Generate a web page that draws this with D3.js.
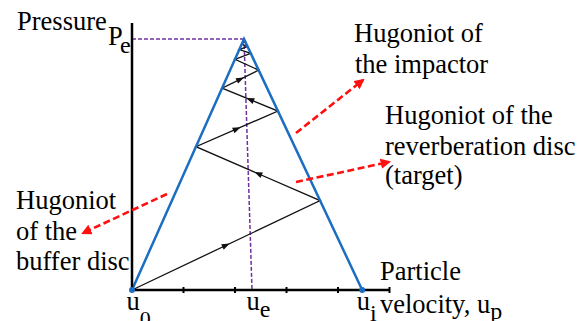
<!DOCTYPE html>
<html><head><meta charset="utf-8">
<script src="https://cdn.jsdelivr.net/npm/d3@7"></script>
<style>
body{margin:0;background:#fff;overflow:hidden}
text{font-family:"Liberation Serif","Times New Roman",serif;fill:#000}
</style>
</head><body><svg id="c" width="586" height="321"></svg>
<script>
// ---- data (velocity in tick units, pressure normalised to Pe = 1) ----
const velocityTicks = [0, 1, 2, 3, 4, 5];
const pressureMax = 1.064;
const peakU = 2.175, peakP = 1.0;          // Pe state
const impactU = 4.47;                      // u_i
const finalU = 2.33;                       // u_e (bottom of dashed line)
const stateU = [0, 3.653, 1.242, 2.834, 1.749, 2.460, 1.999, 2.306, 2.084, 2.244, 2.131, 2.198, 2.160, 2.175];
const stateP = [0, 0.356, 0.571, 0.713, 0.804, 0.876, 0.919, 0.943, 0.958, 0.970, 0.980, 0.990, 0.993, 1.0];
const arrowedSegments = [0, 1, 2, 3, 4];
const velocityLabels = [["u", "0", 0], ["u", "e", 2.33], ["u", "i", 4.47]];

const svg = d3.select("#c");
const x = d3.scaleLinear().domain([0, 5]).range([132, 389.5]);
const y = d3.scaleLinear().domain([0, 1]).range([290, 39]);

const blue = "#1b6ec2", purple = "#7030a0", red = "#ff1010";

// purple dashed guides
svg.append("line").attr("x1", x(0)).attr("y1", y(peakP)).attr("x2", x(peakU)).attr("y2", y(peakP))
  .attr("stroke", purple).attr("stroke-width", 1.5).attr("stroke-dasharray", "4,2");
svg.append("line").attr("x1", x(peakU)).attr("y1", y(peakP)).attr("x2", x(finalU)).attr("y2", y(0))
  .attr("stroke", purple).attr("stroke-width", 1.5).attr("stroke-dasharray", "4,2");

// zigzag
const pts = stateU.map((u, i) => [x(u), y(stateP[i])]);
svg.append("path").attr("d", d3.line()(pts)).attr("fill", "none")
  .attr("stroke", "#111").attr("stroke-width", 1.3);
arrowedSegments.forEach(i => {
  const [x1, y1] = pts[i], [x2, y2] = pts[i + 1];
  const mx = (x1 + x2) / 2, my = (y1 + y2) / 2;
  const ang = Math.atan2(y2 - y1, x2 - x1) * 180 / Math.PI;
  svg.append("path").attr("d", "M4,0 L-4,-3 L-4,3 Z")
    .attr("transform", `translate(${mx},${my}) rotate(${ang})`).attr("fill", "#111");
});

// Hugoniot lines
svg.append("path").attr("d", d3.line()([[x(0), y(0)], [x(peakU), y(peakP)], [x(impactU), y(0)]]))
  .attr("fill", "none").attr("stroke", blue).attr("stroke-width", 2.5).attr("stroke-linejoin", "miter");

// axes
svg.append("line").attr("x1", x(0)).attr("y1", y(0)).attr("x2", x(0)).attr("y2", y(pressureMax))
  .attr("stroke", "#000").attr("stroke-width", 2.5);
svg.append("line").attr("x1", x(0)).attr("y1", y(0)).attr("x2", x(5)).attr("y2", y(0))
  .attr("stroke", "#000").attr("stroke-width", 2.5);
svg.selectAll(".tk").data(velocityTicks.slice(1)).enter().append("line")
  .attr("x1", d => x(d)).attr("x2", d => x(d)).attr("y1", y(0) - 3).attr("y2", y(0) + 3)
  .attr("stroke", "#000").attr("stroke-width", 2);
svg.selectAll(".dot").data([0, impactU]).enter().append("circle")
  .attr("cx", d => x(d)).attr("cy", y(0)).attr("r", 3).attr("fill", blue);

// red annotation arrows
svg.append("defs").append("marker").attr("id", "ah").attr("viewBox", "0 0 10 10")
  .attr("refX", 8).attr("refY", 5).attr("markerWidth", 4).attr("markerHeight", 4)
  .attr("orient", "auto").append("path").attr("d", "M0,0 L10,5 L0,10 Z").attr("fill", red);
[[296, 133, 363, 80], [296, 182, 389, 162], [167, 194, 83, 233]].forEach(a => {
  svg.append("line").attr("x1", a[0]).attr("y1", a[1]).attr("x2", a[2]).attr("y2", a[3])
    .attr("stroke", red).attr("stroke-width", 2.6).attr("stroke-dasharray", "7,3.5")
    .attr("marker-end", "url(#ah)");
});

// texts
const fs = 26.5;
function txt(s, tx, ty, size) {
  return svg.append("text").attr("x", tx).attr("y", ty).attr("font-size", size || fs).text(s);
}
txt("Pressure", 17, 30);
txt("P", 108, 45);
txt("e", 120, 53, 24);
txt("Hugoniot of", 354, 42);
txt("the impactor", 355, 73);
txt("Hugoniot of the", 385, 124);
txt("reverberation disc", 385, 155);
txt("(target)", 385, 184);
txt("Hugoniot", 16, 209);
txt("of the", 16, 240);
txt("buffer disc", 16, 270);
txt("Particle", 380, 280);
const vel = txt("velocity, u", 380, 313);
vel.append("tspan").attr("font-size", 24).attr("dy", 6).text("p");

const subDy = {"0": 16, "e": 7, "i": 11};
velocityLabels.forEach(([b, s, v]) => {
  const t = svg.append("text").attr("x", x(v) - 5.5).attr("y", 310).attr("font-size", fs).text(b);
  t.append("tspan").attr("font-size", s === "0" ? 22 : 24).attr("dy", subDy[s]).text(s);
});
</script></body></html>
